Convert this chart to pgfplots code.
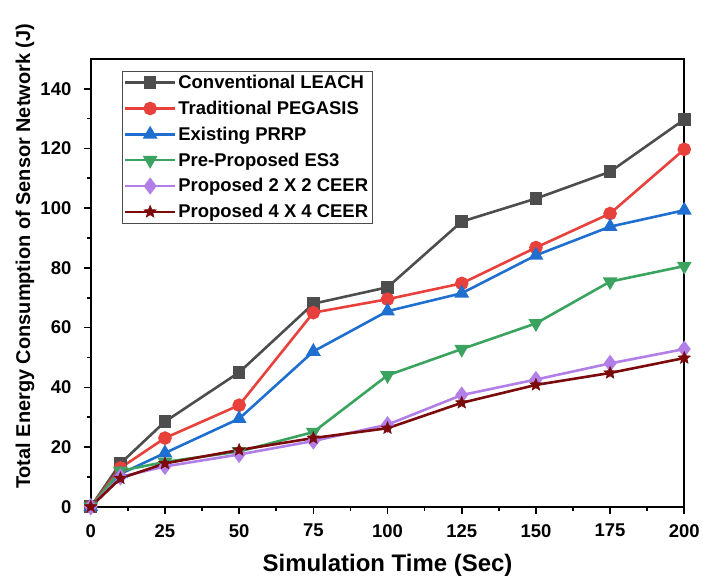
\documentclass[border=0pt]{standalone}
\usepackage{pgfplots}
\pgfplotsset{compat=1.18}
\usepackage{fontspec}
\setmainfont{Liberation Sans}
\definecolor{cLeach}{HTML}{4D4D4D}
\definecolor{cPeg}{HTML}{E8413C}
\definecolor{cPrrp}{HTML}{1F6FD1}
\definecolor{cEs}{HTML}{3AA35F}
\definecolor{cTwo}{HTML}{B27EE8}
\definecolor{cFour}{HTML}{7B0A0A}
\pgfdeclareplotmark{fstar}{%
  \pgfpathmoveto{\pgfpointpolar{90}{\pgfplotmarksize}}%
  \pgfpathlineto{\pgfpointpolar{126}{0.45\pgfplotmarksize}}%
  \pgfpathlineto{\pgfpointpolar{162}{\pgfplotmarksize}}%
  \pgfpathlineto{\pgfpointpolar{198}{0.45\pgfplotmarksize}}%
  \pgfpathlineto{\pgfpointpolar{234}{\pgfplotmarksize}}%
  \pgfpathlineto{\pgfpointpolar{270}{0.45\pgfplotmarksize}}%
  \pgfpathlineto{\pgfpointpolar{306}{\pgfplotmarksize}}%
  \pgfpathlineto{\pgfpointpolar{342}{0.45\pgfplotmarksize}}%
  \pgfpathlineto{\pgfpointpolar{18}{\pgfplotmarksize}}%
  \pgfpathlineto{\pgfpointpolar{54}{0.45\pgfplotmarksize}}%
  \pgfpathclose
  \pgfusepathqfillstroke}
\begin{document}
\begin{tikzpicture}
\begin{axis}[
  scale only axis,
  width=595pt, height=449pt,
  xmin=0, xmax=200, ymin=0, ymax=150,
  xtick={0,25,50,75,100,125,150,175,200},
  ytick={0,20,40,60,80,100,120,140},
  minor x tick num=1, minor y tick num=1,
  tick align=outside,
  xtick pos=bottom, ytick pos=left,
  major tick length=7pt, minor tick length=4pt,
  every tick/.style={black, line width=1.6pt},
  axis line style={line width=2.2pt},
  tick label style={font=\fontsize{18.5}{20}\selectfont\bfseries},
  yticklabel style={xshift=-9pt},
  xticklabel style={yshift=-7pt},
  /pgf/number format/assume math mode=true,
  xlabel={Simulation Time (Sec)},
  ylabel={Total Energy Consumption of Sensor Network (J)},
  every axis x label/.style={at={(axis description cs:0.5,0)}, anchor=center, yshift=-59pt,
    font=\fontsize{24}{26}\selectfont\bfseries},
  every axis y label/.style={at={(axis description cs:0,0.559)}, anchor=center, rotate=90, yshift=66pt,
    font=\fontsize{20}{22}\selectfont\bfseries},
  legend style={at={(0.052,0.973)}, anchor=north west, draw=black!70, line width=0.6pt,
    font=\fontsize{18.5}{20}\selectfont\bfseries, row sep=7pt, inner sep=2pt},
  legend cell align=left,
  legend image code/.code={\draw[mark repeat=2,mark phase=2] plot coordinates {(0pt,0pt)(25pt,0pt)(50pt,0pt)};},
  every axis plot/.append style={line width=2.6pt},
  clip=false,
]
\addplot[cLeach, mark=square*, mark size=5pt] coordinates {(0,0)(10,14.5)(25,28.5)(50,45)(75,68)(100,73.5)(125,95.5)(150,103.2)(175,112.2)(200,129.7)};
\addlegendentry{Conventional LEACH}
\addplot[cPeg, mark=*, mark size=5.5pt] coordinates {(0,0)(10,13)(25,23)(50,34)(75,65)(100,69.5)(125,74.8)(150,86.8)(175,98.2)(200,119.7)};
\addlegendentry{Traditional PEGASIS}
\addplot[cPrrp, mark=triangle*, mark size=6pt] coordinates {(0,0)(10,11)(25,18)(50,29.5)(75,52)(100,65.5)(125,71.5)(150,84.2)(175,93.8)(200,99.3)};
\addlegendentry{Existing PRRP}
\addplot[cEs, mark=triangle*, mark options={rotate=180}, mark size=6pt] coordinates {(0,0)(10,12)(25,15)(50,18.5)(75,25)(100,44)(125,52.8)(150,61.4)(175,75.4)(200,80.6)};
\addlegendentry{Pre-Proposed ES3}
\addplot[cTwo, mark=diamond*, mark size=6.5pt] coordinates {(0,0)(10,10)(25,13.5)(50,17.5)(75,22)(100,27.5)(125,37.4)(150,42.6)(175,48)(200,52.8)};
\addlegendentry{Proposed 2 X 2 CEER}
\addplot[cFour, mark=fstar, mark size=6.5pt, mark options={line width=0.5pt}] coordinates {(0,0)(10,9.5)(25,14.5)(50,19)(75,23)(100,26.3)(125,34.8)(150,40.8)(175,44.8)(200,49.8)};
\addlegendentry{Proposed 4 X 4 CEER}
\path (rel axis cs:0,1) ++(-91pt,59pt);
\end{axis}
\end{tikzpicture}
\end{document}
